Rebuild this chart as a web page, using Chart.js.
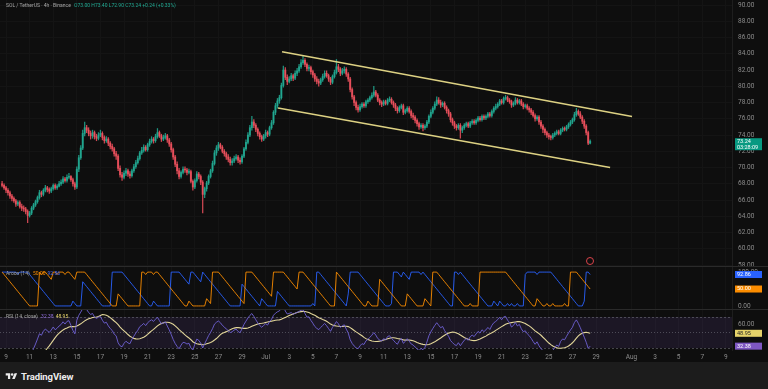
<!DOCTYPE html>
<html lang="en">
<head>
<meta charset="utf-8">
<title>SOL / TetherUS 4h</title>
<script src="https://cdn.jsdelivr.net/npm/chart.js@4.4.1/dist/chart.umd.min.js"></script>
<style>
  html, body { margin: 0; padding: 0; background: #0e0e0e; }
  #wrap { position: relative; width: 768px; height: 389px; overflow: hidden; font-family: Roboto, "Noto Sans", sans-serif; }
  #chart { position: absolute; left: 0; top: 0; }
  .legend { position: absolute; left: 6px; font-size: 5px; line-height: 6px; color: #a8a8a8; white-space: nowrap; }
  .legend span { margin-left: 2px; }
  #footer { position: absolute; left: 0; top: 362px; width: 768px; height: 27px; background: #1c1c1c; }
  #brand { position: absolute; left: 5px; top: 9px; display: flex; align-items: center; color: #ececec; font-weight: 700; font-size: 9.5px; letter-spacing: -0.1px; }
  #brand svg { margin-right: 3px; }
  #marker { position: absolute; left: 586px; top: 257px; width: 6px; height: 6px; border: 1px solid #d9434b; border-radius: 50%; }
</style>
</head>
<body>
<div id="wrap">
  <canvas id="chart" width="768" height="389"></canvas>
  <div class="legend" id="head" style="top:2px"></div>
  <div class="legend" id="aroonLegend" style="top:270px"></div>
  <div class="legend" id="rsiLegend" style="top:313px"></div>
  <div id="marker"></div>
  <div id="footer">
    <div id="brand">
      <svg width="13" height="9" viewBox="0 0 36 28"><path fill="#ececec" d="M14 22H7V11H0V4h14v18zM28 22h-8l7.5-18h8L28 22z"/><circle cx="20" cy="8" r="4" fill="#ececec"/></svg>
      <span>TradingView</span>
    </div>
  </div>
</div>
<script>
// SOL/USDT 4h candles (6 per day, Jun 8 16:00 -> Jul 28 12:00)
const closes = [
  67.8, 67.5, 67.2, 66.9, 66.5, 66.2,
  65.9, 65.5, 65.7, 65.2, 65.0, 64.9,
  64.6, 64.1, 64.4, 65.0, 65.4, 65.8,
  66.3, 66.9, 66.7, 67.2, 67.5, 67.3,
  67.1, 67.4, 67.8, 67.5, 67.7, 68.0,
  68.2, 68.6, 68.4, 68.8, 68.9, 68.5,
  68.0, 67.6, 69.8, 71.2, 72.4, 74.2,
  74.9, 74.6, 74.2, 73.9, 74.3, 73.8,
  73.6, 74.0, 74.2, 73.7, 73.3, 73.5,
  73.0, 72.6, 72.3, 71.7, 71.4, 69.9,
  69.1, 68.8, 69.3, 69.6, 69.2, 69.0,
  69.6, 70.1, 70.6, 71.1, 71.8, 72.1,
  72.5, 72.2, 72.8, 73.2, 73.5, 73.3,
  73.8, 74.3, 73.9, 73.5, 73.7, 73.9,
  73.4, 72.9, 72.2, 71.3, 70.4, 69.6,
  68.9, 69.4, 69.8, 69.7, 69.4, 69.5,
  68.3, 67.6, 68.4, 69.2, 68.9, 68.2,
  66.7, 67.4, 68.1, 68.9, 69.6, 70.5,
  71.8, 72.4, 72.8, 72.5, 72.0, 71.7,
  71.3, 71.0, 70.6, 70.8, 71.1, 71.3,
  70.9, 70.7, 71.4, 72.3, 73.1, 74.0,
  74.9, 75.6, 75.2, 74.7, 74.2, 73.8,
  73.5, 73.9, 74.3, 74.1, 74.9, 75.5,
  76.8, 77.6, 78.2, 78.6, 80.1, 82.0,
  81.1, 80.6, 80.9, 81.3, 81.0, 81.6,
  81.9, 82.4, 82.9, 83.2, 82.7, 82.2,
  82.3, 81.8, 81.4, 80.9, 80.6, 80.4,
  80.8, 81.2, 81.6, 81.3, 80.9, 80.5,
  81.2, 81.7, 82.4, 82.1, 81.6, 81.9,
  82.1, 81.5, 80.9, 79.6, 78.7, 78.0,
  77.4, 77.1, 77.5, 77.8, 77.6, 78.1,
  78.3, 78.6, 78.9, 79.3, 78.9, 78.3,
  78.0, 77.8, 78.1, 77.9, 78.3, 78.4,
  78.0, 77.7, 77.3, 77.0, 77.4, 77.6,
  76.8, 77.0, 77.3, 76.9, 76.4, 76.2,
  75.8, 75.4, 75.0, 75.2, 74.9, 75.1,
  75.6, 76.3, 76.8, 77.3, 77.8, 78.3,
  78.0, 77.7, 77.9, 77.4, 77.0, 76.6,
  75.9, 75.5, 75.1, 74.9, 75.2, 74.6,
  74.9, 75.2, 75.4, 75.1, 75.5, 75.7,
  75.5, 75.8, 76.1, 75.9, 76.3, 76.1,
  76.3, 76.6, 76.4, 76.9, 77.3, 77.5,
  77.8, 78.2, 78.0, 78.5, 78.6, 78.3,
  78.1, 77.7, 77.9, 78.3, 78.0, 78.2,
  77.8, 77.5, 77.6, 77.3, 77.1, 76.8,
  76.4, 76.0, 76.2, 75.6, 75.1, 74.7,
  74.3, 74.0, 73.8, 73.7, 74.0, 74.2,
  74.4, 74.2, 74.6, 74.8, 74.7, 75.0,
  75.3, 75.6, 75.9, 76.5, 76.9, 76.6,
  76.2, 75.7, 75.1, 74.3, 73.0, 73.24
];
const highs = [
  68.3, 68.0, 67.7, 67.4, 67.1, 66.7,
  66.4, 66.1, 65.9, 65.9, 65.5, 65.3,
  65.1, 64.8, 64.6, 65.2, 65.6, 66.0,
  66.5, 67.2, 67.1, 67.4, 67.8, 67.7,
  67.5, 67.6, 68.0, 68.0, 67.9, 68.3,
  68.5, 68.9, 68.8, 69.1, 69.3, 69.0,
  68.7, 68.2, 70.1, 71.5, 72.7, 74.6,
  75.6, 75.2, 74.9, 74.5, 74.6, 74.5,
  74.1, 74.3, 74.6, 74.4, 73.9, 73.8,
  73.7, 73.2, 72.9, 72.5, 72.0, 71.6,
  70.2, 69.4, 69.6, 69.9, 69.8, 69.5,
  69.8, 70.4, 70.9, 71.4, 72.0, 72.5,
  72.8, 72.7, 73.0, 73.5, 73.8, 73.7,
  74.1, 74.8, 74.5, 74.1, 74.0, 74.2,
  74.1, 73.6, 73.1, 72.4, 71.5, 70.7,
  69.9, 69.6, 70.1, 70.1, 69.9, 69.8,
  69.7, 68.5, 68.6, 69.5, 69.4, 69.1,
  68.4, 67.6, 68.3, 69.1, 69.8, 70.8,
  72.1, 72.7, 73.1, 73.0, 72.7, 72.2,
  71.9, 71.6, 71.3, 71.1, 71.4, 71.6,
  71.5, 71.2, 71.6, 72.5, 73.4, 74.3,
  75.2, 76.3, 75.9, 75.4, 74.9, 74.4,
  74.0, 74.1, 74.6, 74.5, 75.1, 75.8,
  77.0, 77.9, 78.5, 78.9, 80.4, 82.5,
  82.3, 81.4, 81.2, 81.6, 81.5, 81.9,
  82.2, 82.7, 83.3, 83.8, 83.4, 82.9,
  82.6, 82.5, 82.0, 81.6, 81.2, 80.9,
  81.0, 81.5, 81.9, 81.9, 81.5, 81.1,
  81.4, 82.0, 83.3, 82.7, 82.3, 82.2,
  82.4, 82.3, 81.7, 81.1, 79.8, 78.9,
  78.2, 77.7, 77.8, 78.0, 78.0, 78.3,
  78.5, 78.8, 79.2, 80.0, 79.5, 79.1,
  78.5, 78.2, 78.3, 78.3, 78.5, 78.7,
  78.6, 78.2, 77.9, 77.5, 77.6, 77.8,
  77.8, 77.2, 77.5, 77.5, 77.1, 76.7,
  76.4, 76.0, 75.6, 75.4, 75.4, 75.3,
  75.8, 76.5, 77.1, 77.5, 78.1, 78.7,
  78.6, 78.3, 78.1, 78.1, 77.6, 77.2,
  76.8, 76.1, 75.7, 75.3, 75.4, 75.4,
  75.1, 75.4, 75.6, 75.6, 75.7, 75.9,
  75.9, 76.0, 76.3, 76.3, 76.5, 76.5,
  76.5, 76.8, 76.8, 77.1, 77.5, 77.8,
  78.0, 78.4, 78.4, 78.7, 78.9, 78.8,
  78.5, 78.3, 78.1, 78.6, 78.5, 78.4,
  78.4, 78.0, 77.8, 77.8, 77.5, 77.3,
  77.0, 76.6, 76.4, 76.4, 75.8, 75.3,
  74.9, 74.5, 74.2, 74.0, 74.2, 74.4,
  74.6, 74.6, 74.8, 75.0, 75.0, 75.2,
  75.5, 75.8, 76.1, 76.8, 77.3, 77.1,
  76.9, 76.4, 75.9, 75.3, 74.5, 73.4
];
const lows = [
  67.6, 67.3, 66.9, 66.6, 66.2, 65.9,
  65.7, 65.2, 65.3, 65.0, 64.7, 64.6,
  64.3, 63.2, 63.9, 64.2, 64.8, 65.2,
  65.6, 66.1, 66.4, 66.5, 67.0, 67.0,
  66.8, 66.9, 67.2, 67.3, 67.3, 67.6,
  67.8, 68.0, 68.2, 68.2, 68.6, 68.3,
  67.7, 67.3, 67.4, 69.5, 71.0, 72.2,
  73.9, 74.3, 73.9, 73.5, 73.6, 73.5,
  73.3, 73.4, 73.8, 73.4, 73.0, 73.1,
  72.7, 72.3, 72.0, 71.4, 71.0, 69.6,
  68.8, 68.4, 68.6, 69.0, 68.9, 68.7,
  68.8, 69.4, 69.9, 70.4, 70.9, 71.6,
  71.9, 72.0, 72.0, 72.6, 73.0, 73.0,
  73.1, 73.6, 73.7, 73.2, 73.3, 73.5,
  73.1, 72.6, 71.9, 71.0, 70.1, 69.2,
  68.6, 68.7, 69.2, 69.4, 69.1, 69.2,
  68.1, 67.2, 67.4, 68.2, 68.6, 67.9,
  64.4, 66.3, 67.1, 67.9, 68.7, 69.4,
  70.3, 71.5, 72.1, 72.3, 71.8, 71.4,
  71.0, 70.7, 70.3, 70.3, 70.6, 70.9,
  70.6, 70.4, 70.5, 71.2, 72.1, 72.9,
  73.8, 74.6, 74.9, 74.4, 73.9, 73.5,
  73.2, 73.3, 73.6, 73.8, 73.9, 74.7,
  75.3, 76.5, 77.3, 77.9, 78.4, 79.9,
  80.8, 80.2, 80.4, 80.7, 80.7, 80.8,
  81.3, 81.7, 82.2, 82.7, 82.4, 81.9,
  81.9, 81.5, 81.1, 80.6, 80.3, 80.0,
  80.2, 80.6, 81.0, 81.1, 80.6, 80.2,
  80.3, 81.0, 81.5, 81.8, 81.3, 81.4,
  81.6, 81.2, 80.6, 79.3, 78.4, 77.6,
  77.1, 76.8, 76.9, 77.3, 77.4, 77.4,
  77.9, 78.1, 78.4, 78.7, 78.7, 78.1,
  77.7, 77.5, 77.6, 77.7, 77.7, 78.1,
  77.8, 77.4, 77.0, 76.7, 76.8, 77.2,
  76.5, 76.6, 76.8, 76.7, 76.1, 75.9,
  75.5, 75.1, 74.7, 74.8, 74.5, 74.7,
  74.9, 75.4, 76.1, 76.6, 77.1, 77.6,
  77.8, 77.4, 77.5, 77.2, 76.7, 76.3,
  75.6, 75.2, 74.8, 74.6, 74.7, 73.6,
  74.3, 74.7, 75.0, 74.9, 74.9, 75.3,
  75.3, 75.3, 75.6, 75.7, 75.7, 75.9,
  75.9, 76.1, 76.2, 76.2, 76.7, 77.1,
  77.3, 77.6, 77.8, 77.8, 78.3, 78.1,
  77.9, 77.4, 77.5, 77.7, 77.8, 77.8,
  77.6, 77.2, 77.3, 77.1, 76.8, 76.5,
  76.2, 75.7, 75.8, 75.3, 74.8, 74.3,
  74.0, 73.7, 73.5, 73.4, 73.5, 73.8,
  74.0, 74.0, 74.0, 74.4, 74.5, 74.5,
  74.8, 75.1, 75.4, 75.7, 76.3, 76.4,
  76.0, 75.4, 74.8, 74.0, 72.8, 72.9
];
const firstOpen = 68.0;
const firstCandleDay = 8 + 16 / 24;   // Jun 8, 16:00 (day 31 = Jul 1)
const candleDays = 4 / 24;

// time axis (day numbers, Jun 1 = 1, Jul 1 = 31, Aug 1 = 62)
const tickDays = [9, 11, 13, 15, 17, 19, 21, 23, 25, 27, 29, 31, 33, 35, 37, 39, 41, 43, 45, 47, 49, 51, 53, 55, 57, 59, 62, 64, 66, 68, 70];
const tickLabels = ['9', '11', '13', '15', '17', '19', '21', '23', '25', '27', '29', 'Jul', '3', '5', '7', '9', '11', '13', '15', '17', '19', '21', '23', '25', '27', '29', 'Aug', '3', '5', '7', '9'];
const priceTicks = [58, 60, 62, 64, 66, 68, 70, 72, 74, 76, 78, 80, 82, 84, 86, 88, 90];
const aroonTicks = [0, 50, 100];
const rsiTicks = [60];
const rsiLevels = [30, 50, 70];

// descending channel drawn on the chart
const channelUpper = [{ x: 32.39, y: 84.25 }, { x: 62.05, y: 76.28 }];
const channelLower = [{ x: 32.05, y: 77.32 }, { x: 60.19, y: 70.0 }];
const countdown = '03:28:09';

const opens = [firstOpen].concat(closes.slice(0, -1));
const times = closes.map((_, i) => firstCandleDay + i * candleDays);
const up = closes.map((c, i) => c >= opens[i]);

// Aroon (14)
const aroonUp = [], aroonDown = [];
for (let i = 0; i < closes.length; i++) {
    const from = Math.max(0, i - 14);
    let hi = from, lo = from;
    for (let j = from; j <= i; j++) {
        if (highs[j] >= highs[hi]) hi = j;
        if (lows[j] <= lows[lo]) lo = j;
    }
    aroonUp.push(100 * (14 - (i - hi)) / 14);
    aroonDown.push(100 * (14 - (i - lo)) / 14);
}

// RSI (14) + 14 SMA of it
const rsi = [null], rsiMa = [null];
let avgGain = 0, avgLoss = 0;
for (let i = 1; i < closes.length; i++) {
    const ch = closes[i] - closes[i - 1];
    const n = Math.min(i, 14);
    avgGain = (avgGain * (n - 1) + Math.max(ch, 0)) / n;
    avgLoss = (avgLoss * (n - 1) + Math.max(-ch, 0)) / n;
    rsi.push(avgLoss === 0 ? 100 : 100 - 100 / (1 + avgGain / avgLoss));
    const win = rsi.slice(Math.max(1, i - 13), i + 1);
    rsiMa.push(win.reduce((a, b) => a + b, 0) / win.length);
}

const last = closes.length - 1;
const fmt = v => v.toFixed(2);

// legends (html text)
const chg = closes[last] - opens[last];
const headColor = chg >= 0 ? '#22ab94' : '#f7525f';
document.getElementById('head').innerHTML =
    'SOL / TetherUS · 4h · Binance ' +
    `<span style="color:${headColor}">O${fmt(opens[last])} H${fmt(highs[last])} L${fmt(lows[last])} C${fmt(closes[last])} ` +
    `${chg >= 0 ? '+' : ''}${fmt(chg)} (${chg >= 0 ? '+' : ''}${fmt(chg / opens[last] * 100)}%)</span>`;
document.getElementById('aroonLegend').innerHTML =
    `Aroon (14) <span style="color:#fb8c00">${fmt(aroonUp[last])}</span><span style="color:#4a6cf7">${fmt(aroonDown[last])}</span>`;
document.getElementById('rsiLegend').innerHTML =
    `RSI (14, close) <span style="color:#8c6ad6">${fmt(rsi[last])}</span><span style="color:#e6d36a">${fmt(rsiMa[last])}</span>`;

const panels = {
    id: 'panels',
    beforeDatasetsDraw(chart) {
        const { ctx, chartArea } = chart;
        const yR = chart.scales.yR;
        ctx.save();
        const t = yR.getPixelForValue(rsiLevels[2]);
        const b = yR.getPixelForValue(rsiLevels[0]);
        ctx.fillStyle = 'rgba(126, 87, 194, 0.13)';
        ctx.fillRect(chartArea.left, t, chartArea.width, b - t);
        ctx.strokeStyle = 'rgba(140, 140, 150, 0.45)';
        ctx.lineWidth = 1;
        rsiLevels.forEach((lv, k) => {
            ctx.setLineDash(k === 1 ? [1, 2] : [2, 2]);
            const y = Math.round(yR.getPixelForValue(lv)) + 0.5;
            ctx.beginPath();
            ctx.moveTo(chartArea.left, y);
            ctx.lineTo(chartArea.right, y);
            ctx.stroke();
        });
        ctx.restore();
    },
    afterDraw(chart) {
        const { ctx, chartArea } = chart;
        ctx.save();
        // pane separators
        ctx.strokeStyle = '#2a2a2a';
        ctx.lineWidth = 1;
        ['yA', 'yR'].forEach(id => {
            const y = Math.round(chart.scales[id].top) + 0.5;
            ctx.beginPath();
            ctx.moveTo(0, y);
            ctx.lineTo(chart.width, y);
            ctx.stroke();
        });
        // last value boxes on the right scale
        const boxes = [
            { scale: 'y', value: closes[last], bg: '#089981', fg: '#ffffff', lines: [fmt(closes[last]), countdown] },
            { scale: 'yA', value: aroonDown[last], bg: '#2962ff', fg: '#ffffff', lines: [fmt(aroonDown[last])] },
            { scale: 'yA', value: aroonUp[last], bg: '#fb8c00', fg: '#ffffff', lines: [fmt(aroonUp[last])] },
            { scale: 'yR', value: rsiMa[last], bg: '#e6d36a', fg: '#222222', lines: [fmt(rsiMa[last])] },
            { scale: 'yR', value: rsi[last], bg: '#7e57c2', fg: '#ffffff', lines: [fmt(rsi[last])] }
        ];
        let prevBottom = -99;
        ctx.font = '5.5px Roboto, sans-serif';
        ctx.textBaseline = 'middle';
        boxes.map(bx => {
            const h = bx.lines.length > 1 ? 12 : 7;
            let y = chart.scales[bx.scale].getPixelForValue(bx.value) - (bx.lines.length > 1 ? 3 : h / 2);
            return Object.assign(bx, { h, y });
        }).sort((a, b) => a.y - b.y).forEach(bx => {
            if (bx.y < prevBottom + 1) bx.y = prevBottom + 1;
            prevBottom = bx.y + bx.h;
            ctx.fillStyle = bx.bg;
            ctx.fillRect(chartArea.right + 3, bx.y, 27, bx.h);
            ctx.fillStyle = bx.fg;
            bx.lines.forEach((s, k) => ctx.fillText(s, chartArea.right + 5, bx.y + 3.5 + k * 5.5));
        });
        ctx.restore();
    }
};

const axisFont = { family: 'Roboto, sans-serif', size: 6.5 };
const fitRight = s => { s.width = 36; s.paddingTop = 0; s.paddingBottom = 0; };
const candleGreen = 'rgba(34, 171, 148, 0.85)';
const candleRed = 'rgba(242, 82, 95, 0.85)';

new Chart(document.getElementById('chart'), {
    type: 'bar',
    data: {
        datasets: [
            {
                label: 'wicks',
                data: times.map((t, i) => ({ x: t, y: [lows[i], highs[i]] })),
                backgroundColor: up.map(u => u ? candleGreen : candleRed),
                barThickness: 0.6,
                grouped: false,
                yAxisID: 'y',
                order: 2
            },
            {
                label: 'bodies',
                data: times.map((t, i) => ({ x: t, y: [opens[i], closes[i]] })),
                backgroundColor: up.map(u => u ? candleGreen : candleRed),
                barThickness: 1.3,
                minBarLength: 1,
                grouped: false,
                yAxisID: 'y',
                order: 1
            },
            {
                type: 'line', label: 'channel top', data: channelUpper, yAxisID: 'y',
                borderColor: '#ddd183', borderWidth: 1.6, pointRadius: 0, order: 0
            },
            {
                type: 'line', label: 'channel bottom', data: channelLower, yAxisID: 'y',
                borderColor: '#ddd183', borderWidth: 1.6, pointRadius: 0, order: 0
            },
            {
                type: 'line', label: 'Aroon Up', data: times.map((t, i) => ({ x: t, y: aroonUp[i] })), yAxisID: 'yA',
                borderColor: '#fb8c00', borderWidth: 0.9, pointRadius: 0, order: 0
            },
            {
                type: 'line', label: 'Aroon Down', data: times.map((t, i) => ({ x: t, y: aroonDown[i] })), yAxisID: 'yA',
                borderColor: '#2962ff', borderWidth: 0.9, pointRadius: 0, order: 0
            },
            {
                type: 'line', label: 'RSI', data: times.map((t, i) => ({ x: t, y: rsi[i] })), yAxisID: 'yR',
                borderColor: '#6f62d6', borderWidth: 0.9, pointRadius: 0, order: 0
            },
            {
                type: 'line', label: 'RSI MA', data: times.map((t, i) => ({ x: t, y: rsiMa[i] })), yAxisID: 'yR',
                borderColor: '#e3d79a', borderWidth: 1.1, pointRadius: 0, order: 0
            }
        ]
    },
    options: {
        responsive: false,
        animation: false,
        events: [],
        layout: { autoPadding: false, padding: { left: 0, top: 0, right: 0, bottom: 27 } },
        plugins: { legend: { display: false }, tooltip: { enabled: false } },
        scales: {
            x: {
                type: 'linear',
                offset: false,
                min: 8.49,
                max: 70.52,
                grid: { color: '#141414', drawTicks: false, offset: false },
                border: { display: false },
                ticks: { color: '#8c8c8c', font: axisFont, padding: 3, maxRotation: 0, autoSkip: false, callback: (v) => tickLabels[tickDays.indexOf(v)] },
                afterBuildTicks: s => { s.ticks = tickDays.map(v => ({ value: v })); },
                afterFit: s => { s.height = 12; s.paddingLeft = 0; s.paddingRight = 0; }
            },
            y: {
                position: 'right', stack: 'panes', stackWeight: 266,
                min: 57.88, max: 90.62,
                grid: { color: '#141414', drawTicks: false },
                border: { color: '#1e1e1e' },
                ticks: { color: '#8c8c8c', font: axisFont, padding: 6, autoSkip: false, callback: v => v.toFixed(2) },
                afterBuildTicks: s => { s.ticks = priceTicks.map(v => ({ value: v })); },
                afterFit: fitRight
            },
            yA: {
                position: 'right', stack: 'panes', stackWeight: 43,
                min: -9, max: 118,
                grid: { display: false, drawTicks: false },
                border: { color: '#1e1e1e' },
                ticks: { color: '#8c8c8c', font: axisFont, padding: 6, autoSkip: false, callback: v => v.toFixed(2) },
                afterBuildTicks: s => { s.ticks = aroonTicks.map(v => ({ value: v })); },
                afterFit: fitRight
            },
            yR: {
                position: 'right', stack: 'panes', stackWeight: 41,
                min: 27.4, max: 80.3,
                grid: { display: false, drawTicks: false },
                border: { color: '#1e1e1e' },
                ticks: { color: '#8c8c8c', font: axisFont, padding: 6, autoSkip: false, callback: v => v.toFixed(2) },
                afterBuildTicks: s => { s.ticks = rsiTicks.map(v => ({ value: v })); },
                afterFit: fitRight
            }
        }
    },
    plugins: [panels]
});
</script>
</body>
</html>
